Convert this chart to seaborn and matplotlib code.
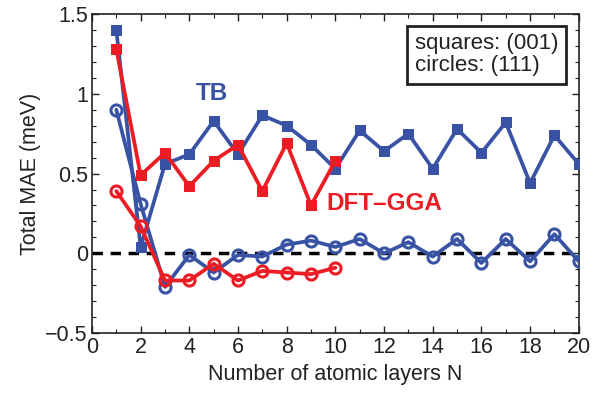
import numpy as np
import pandas as pd
import matplotlib
matplotlib.use("Agg")
import matplotlib.pyplot as plt
import seaborn as sns
from matplotlib.ticker import MultipleLocator

# Data
N_tb = list(range(1, 21))
N_dft = list(range(1, 11))
tb_001 = [1.40, 0.04, 0.56, 0.62, 0.83, 0.62, 0.865, 0.80, 0.68, 0.53,
          0.77, 0.64, 0.75, 0.53, 0.78, 0.63, 0.82, 0.44, 0.74, 0.56]
dft_001 = [1.28, 0.49, 0.63, 0.42, 0.58, 0.68, 0.39, 0.69, 0.30, 0.58]
tb_111 = [0.90, 0.31, -0.21, -0.01, -0.12, -0.01, -0.02, 0.055, 0.08, 0.04,
          0.09, 0.00, 0.07, -0.02, 0.09, -0.06, 0.09, -0.05, 0.12, -0.05]
dft_111 = [0.39, 0.17, -0.17, -0.17, -0.065, -0.17, -0.11, -0.12, -0.13, -0.09]

BLUE = "#3953a4"
RED = "#ec1c24"
DARK = "#222222"

sns.set_theme(style="white")
plt.rcParams['font.family'] = ['Liberation Sans', 'DejaVu Sans']

fig = plt.figure(figsize=(6.01, 3.99), dpi=100)
ax = fig.add_axes([0.153, 0.165, 0.81, 0.80])

ax.axhline(0, color="black", lw=2.5, ls=(0, (3, 2.2)), zorder=1)

def draw(x, y, color, marker):
    df = pd.DataFrame({"N": x, "MAE": y})
    if marker == "s":
        sns.lineplot(data=df, x="N", y="MAE", color=color, lw=2.7, marker="s",
                     markersize=7, markerfacecolor=color, markeredgecolor=color,
                     ax=ax, zorder=3)
    else:
        sns.lineplot(data=df, x="N", y="MAE", color=color, lw=2.7, marker="o",
                     markersize=8, markerfacecolor="none", markeredgecolor=color,
                     markeredgewidth=2.2, ax=ax, zorder=3)

draw(N_tb, tb_001, BLUE, "s")
draw(N_tb, tb_111, BLUE, "o")
draw(N_dft, dft_001, RED, "s")
draw(N_dft, dft_111, RED, "o")

ax.set_xlim(0, 20)
ax.set_ylim(-0.5, 1.5)
ax.set_xticks(range(0, 21, 2))
ax.set_yticks([-0.5, 0, 0.5, 1, 1.5])
ax.set_yticklabels(["\u22120.5", "0", "0.5", "1", "1.5"])
ax.xaxis.set_minor_locator(MultipleLocator(1))
ax.yaxis.set_minor_locator(MultipleLocator(0.1))
ax.tick_params(which="both", direction="in", top=True, right=True,
               bottom=True, left=True, labelsize=15.5, colors=DARK)
ax.tick_params(which="major", length=5, width=1, pad=3)
ax.tick_params(which="minor", length=3, width=0.8)
for s in ax.spines.values():
    s.set_color(DARK)
    s.set_linewidth(1.2)

ax.set_xlabel("Number of atomic layers N", fontsize=15.5, color=DARK, labelpad=4)
ax.set_ylabel("Total MAE (meV)", fontsize=15.5, color=DARK, labelpad=3)

ax.text(4.93, 1.0, "TB", color=BLUE, fontsize=17.5, fontweight="bold",
        ha="center", va="center")
ax.text(12.0, 0.31, "DFT\u2013GGA", color=RED, fontsize=17.5, fontweight="bold",
        ha="center", va="center")
ax.text(0.663, 0.872, "squares: (001)\ncircles: (111)", transform=ax.transAxes,
        fontsize=16, color=DARK, ha="left", va="center", linespacing=1.05,
        bbox=dict(boxstyle="square,pad=0.35", fc="white", ec=DARK, lw=2))

fig.savefig("out.png", dpi=100)
